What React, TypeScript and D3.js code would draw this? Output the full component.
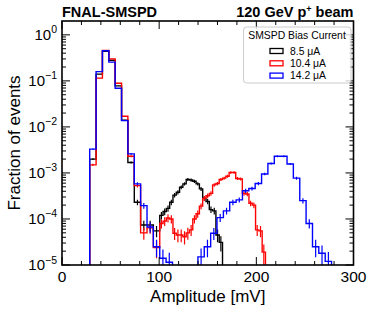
import React from 'react';
import * as d3 from 'd3';

// bin edges [mV]: coarse binning for the noise peak / blue, fine binning for black and red signal
const coarseEdges = [28.5, 35.1, 41.6, 48.2, 54.7, 61.3, 67.8, 74.4, 80.9, 87.5, 94.0, 100.6, 107.1, 113.7, 120.2, 126.8, 133.3, 139.9, 146.4, 153.0, 159.5, 166.1, 172.6, 179.2, 185.7, 192.3, 198.8, 205.4, 211.9, 218.5, 225.0, 231.6, 238.1, 244.7, 251.2, 257.8, 264.3, 270.9, 277.4];
const fineEdges = [100.6, 104.0, 107.4, 110.8, 114.2, 117.6, 121.0, 124.4, 127.8, 131.2, 134.6, 138.0, 141.4, 144.8, 148.2, 151.6, 155.0, 158.4, 161.8, 165.2, 168.6, 172.0, 175.4, 178.8, 182.2, 185.6, 189.0, 192.4, 195.8, 199.2, 202.6, 206.0, 209.4];

// fraction of events per bin
const black85 = [2.0e-3, 0.14, 0.44, 0.28, 0.078, 0.014, 1.68e-3, 2.3e-4, 7.4e-5, 7.4e-5, 5.5e-5,
  1.2e-4, 1.45e-4, 1.7e-4, 2.3e-4, 3.3e-4, 3.8e-4, 4.9e-4, 5.8e-4, 7.2e-4, 7.0e-4, 6.6e-4, 5.8e-4, 4.5e-4, 2.8e-4, 2.4e-4, 1.6e-4, 1.5e-4, 4.5e-5, 3.1e-5];
const red104 = [1.5e-3, 0.115, 0.46, 0.30, 0.089, 0.017, 2.3e-3, 5.3e-4, 5.0e-5, 6.4e-5, 2.4e-5,
  8e-5, 9e-5, 1.05e-4, 1.0e-4, 4.9e-5, 4.5e-5, 4.5e-5, 4.1e-5, 5.0e-5, 5.8e-5, 1.0e-4, 1.3e-4, 1.9e-4, 2.8e-4, 3.2e-4, 3.6e-4,
  5.5e-4, 5.9e-4, 7.2e-4, 7.7e-4, 8.5e-4, 1.02e-3, 1.02e-3, 7.6e-4, 7.4e-4, 3.6e-4, 3.5e-4, 2.2e-4, 2.0e-4, 5.8e-5, 5.5e-5, 1.9e-5];
const blue142 = [3.3e-3, 0.159, 0.45, 0.255, 0.069, 0.0137, 2.6e-3, 5.8e-4, 1.95e-4, 6.7e-5, 2.5e-5, 1.4e-5, 1.15e-5,
  0, 0, 0, 0, 1.5e-5, 2.5e-5, 4.9e-5, 1.07e-4, 1.5e-4, 2.3e-4, 2.6e-4, 4.1e-4, 4.6e-4, 5.9e-4, 9.5e-4,
  1.6e-3, 2.3e-3, 2.3e-3, 1.57e-3, 7.7e-4, 2.5e-4, 8e-5, 2.5e-5, 1.8e-5, 1.2e-5];

const legendLabels = ['8.5 μA', '10.4 μA', '14.2 μA'];
const colors = ['#000000', '#ff0000', '#0000ff'];
const xTicks = [0, 100, 200, 300];
const yExps = [0, -1, -2, -3, -4, -5];

const series = [
  { edges: coarseEdges.slice(0, 11).concat(fineEdges.slice(0, 20)), values: black85 },
  { edges: coarseEdges.slice(0, 11).concat(fineEdges), values: red104 },
  { edges: coarseEdges, values: blue142 },
];

const errScale = 2.4e5; // effective statistics for error bars
const font = '"Liberation Sans", Arial, Helvetica, sans-serif';

const App: React.FC = () => {
  const left = 62, right = 353.5, top = 21, bottom = 265;
  const x = d3.scaleLinear().domain([0, 300]).range([left, right]);
  const y = d3.scaleLog().domain([1e-5, 2.0]).range([bottom, top]);
  const yv = (v: number) => (v > 0 ? y(v) : bottom + 6);

  const step = d3.line<[number, number]>()
    .x((d) => x(d[0]))
    .y((d) => yv(d[1]))
    .curve(d3.curveStepAfter);

  const minorX = d3.range(20, 300, 20).filter((v) => v % 100 !== 0);
  const minorY: number[] = [];
  for (let e = -5; e <= 0; e++) {
    for (let k = 2; k <= 9; k++) {
      const v = k * Math.pow(10, e);
      if (v < 2.0) minorY.push(v);
    }
  }

  return (
    <svg width={374} height={313} style={{ position: 'absolute', left: 0, top: 0 }} fontFamily={font}>
      <defs>
        <clipPath id="plot">
          <rect x={left} y={top} width={right - left} height={bottom - top} />
        </clipPath>
      </defs>
      <rect width={374} height={313} fill="#fff" />

      <g clipPath="url(#plot)">
        {series.map((s, i) => {
          const pts: [number, number][] = [[s.edges[0], 0]];
          s.values.forEach((v, j) => pts.push([s.edges[j], v]));
          pts.push([s.edges[s.edges.length - 1], 0]);
          return (
            <g key={i}>
              <path d={step(pts) || ''} fill="none" stroke={colors[i]} strokeWidth={1.4} />
              {s.values.map((v, j) => {
                if (v <= 0) return null;
                const c = (s.edges[j] + s.edges[j + 1]) / 2;
                const sig = Math.sqrt(v / errScale);
                return (
                  <line key={j} x1={x(c)} x2={x(c)} y1={yv(v - sig)} y2={y(v + sig)}
                    stroke={colors[i]} strokeWidth={1.2} />
                );
              })}
            </g>
          );
        })}
      </g>

      {/* ticks, all four sides, inward */}
      <g stroke="#000" strokeWidth={1}>
        {xTicks.map((t) => (
          <g key={'xm' + t}>
            <line x1={x(t)} x2={x(t)} y1={bottom} y2={bottom - 8} />
            <line x1={x(t)} x2={x(t)} y1={top} y2={top + 8} />
          </g>
        ))}
        {minorX.map((t) => (
          <g key={'xn' + t}>
            <line x1={x(t)} x2={x(t)} y1={bottom} y2={bottom - 4} />
            <line x1={x(t)} x2={x(t)} y1={top} y2={top + 4} />
          </g>
        ))}
        {yExps.map((e) => (
          <g key={'ym' + e}>
            <line x1={left} x2={left + 8} y1={y(Math.pow(10, e))} y2={y(Math.pow(10, e))} />
            <line x1={right} x2={right - 8} y1={y(Math.pow(10, e))} y2={y(Math.pow(10, e))} />
          </g>
        ))}
        {minorY.map((v, i) => (
          <g key={'yn' + i}>
            <line x1={left} x2={left + 4} y1={y(v)} y2={y(v)} />
            <line x1={right} x2={right - 4} y1={y(v)} y2={y(v)} />
          </g>
        ))}
      </g>

      <rect x={left} y={top} width={right - left} height={bottom - top} fill="none" stroke="#000" strokeWidth={1.6} />

      {/* tick labels */}
      {xTicks.map((t) => (
        <text key={'xl' + t} x={x(t)} y={282} textAnchor="middle" fontSize={15.5}>{t}</text>
      ))}
      {yExps.map((e) => (
        <text key={'yl' + e} x={57} y={y(Math.pow(10, e)) + 5} textAnchor="end" fontSize={15}>
          <tspan>10</tspan>
          <tspan dy={-6.5} fontSize={10.5}>{e === 0 ? '0' : '−' + Math.abs(e)}</tspan>
        </text>
      ))}

      <text x={(left + right) / 2} y={302} textAnchor="middle" fontSize={17}>Amplitude [mV]</text>
      <text transform={`translate(20,${(top + bottom) / 2}) rotate(-90)`} textAnchor="middle" fontSize={17}>Fraction of events</text>

      <text x={left} y={17} fontSize={14.5} fontWeight="bold">FNAL-SMSPD</text>
      <text x={right} y={17} fontSize={14.5} fontWeight="bold" textAnchor="end">
        <tspan>120 GeV p</tspan>
        <tspan dy={-5} fontSize={9}>+</tspan>
        <tspan dy={5}> beam</tspan>
      </text>

      {/* legend */}
      <g>
        <rect x={243.5} y={27} width={107.5} height={56} rx={3} fill="#fff" fillOpacity={0.8} stroke="#cccccc" strokeWidth={1} />
        <text x={297} y={38.5} textAnchor="middle" fontSize={10.4}>SMSPD Bias Current</text>
        {legendLabels.map((lab, i) => (
          <g key={lab}>
            <rect x={270} y={48.5 + i * 12.3} width={13} height={5} fill="none" stroke={colors[i]} strokeWidth={1.3} />
            <text x={290} y={54.5 + i * 12.3} fontSize={10.4}>{lab}</text>
          </g>
        ))}
      </g>
    </svg>
  );
};

export default App;
